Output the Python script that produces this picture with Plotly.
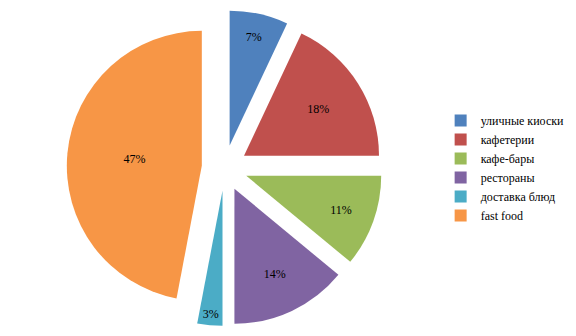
import plotly.graph_objects as go

labels = ["уличные киоски", "кафетерии", "кафе-бары", "рестораны", "доставка блюд", "fast food"]
values = [7, 18, 11, 14, 3, 47]
colors = ["#4F81BD", "#C0504D", "#9BBB59", "#8064A2", "#4BACC6", "#F79646"]
pulls = [0.17, 0.17, 0.17, 0.17, 0.17, 0.17]

SERIF = "Liberation Serif, Times New Roman, DejaVu Serif, serif"

fig = go.Figure(go.Pie(
    labels=labels, values=values, sort=False, direction="clockwise", rotation=0,
    marker=dict(colors=colors, line=dict(width=0)),
    pull=pulls,
    textinfo="percent", textposition="inside", insidetextorientation="horizontal",
    texttemplate="%{percent:.0%}",
    textfont=dict(family=SERIF, size=12, color="#000000"),
    domain=dict(x=[0.09, 0.69], y=[0.03, 0.97]),
))
fig.update_layout(
    width=576, height=336,
    margin=dict(l=0, r=0, t=0, b=0, autoexpand=False),
    paper_bgcolor="white",
    font=dict(family=SERIF, size=12, color="#000000"),
    legend=dict(x=0.765, y=0.5, xanchor="left", yanchor="middle",
                font=dict(family=SERIF, size=12), tracegroupgap=0,
                itemwidth=30),
)
fig.write_html("out.html")
